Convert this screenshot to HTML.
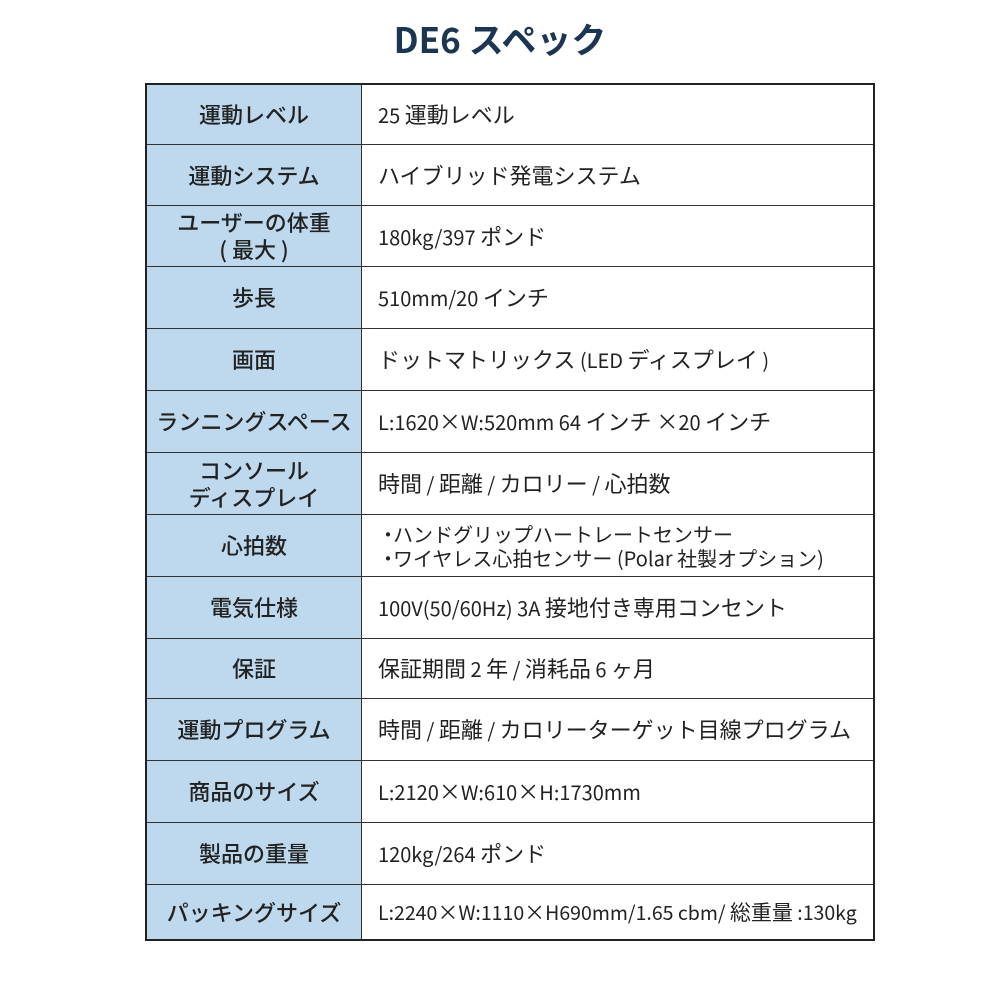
<!DOCTYPE html>
<html><head><meta charset="utf-8"><style>
body{margin:0;width:1000px;height:1000px;background:#fff;font-family:"Liberation Sans","Noto Sans CJK JP",sans-serif;color:#222;position:relative;overflow:hidden}
h1{position:absolute;top:13px;left:0;width:1000px;text-align:center;margin:0;font-size:35px;font-weight:bold;color:#1b3553;font-family:"Noto Sans CJK JP",sans-serif}
.t{position:absolute;left:145px;top:83px;width:726px;height:854px;border:2px solid #222}
.r{position:absolute;left:0;width:726px;border-bottom:1.5px solid #333;box-sizing:border-box}
.r:last-child{border-bottom:none}
.k{position:absolute;left:0;top:0;bottom:0;width:214px;background:#bed9ed;border-right:1.5px solid #333;display:flex;align-items:center;justify-content:center;text-align:center;font-size:22px;font-weight:500;line-height:27px;font-family:"Noto Sans CJK JP Medium","Noto Sans CJK JP",sans-serif}
.v{position:absolute;left:231px;top:0;bottom:0;right:0;display:flex;align-items:center;font-size:22px;line-height:24px;font-family:"Noto Sans CJK JP",sans-serif;white-space:nowrap}
.l{font-size:20px}
.b{display:inline-block;width:15px;overflow:visible}
</style></head><body>
<h1>DE6 スペック</h1>
<div class="t">
<div class="r" style="top:0;height:60px"><div class="k">運動レベル</div><div class="v"><span><span class="l">25 </span>運動レベル</span></div></div>
<div class="r" style="top:60px;height:61px"><div class="k">運動システム</div><div class="v">ハイブリッド発電システム</div></div>
<div class="r" style="top:121px;height:61px"><div class="k">ユーザーの体重<br>( 最大 )</div><div class="v"><span><span class="l">180kg/397 </span>ポンド</span></div></div>
<div class="r" style="top:182px;height:62px"><div class="k">歩長</div><div class="v"><span><span class="l">510mm/20 </span>インチ</span></div></div>
<div class="r" style="top:244px;height:62px"><div class="k">画面</div><div class="v"><span>ドットマトリックス<span class="l"> (LED </span>ディスプレイ<span class="l"> )</span></span></div></div>
<div class="r" style="top:306px;height:62px"><div class="k">ランニングスペース</div><div class="v"><span><span class="l">L:1620</span>×<span class="l">W:520mm 64 </span>インチ ×<span class="l">20 </span>インチ</span></div></div>
<div class="r" style="top:368px;height:62px"><div class="k">コンソール<br>ディスプレイ</div><div class="v"><span>時間<span class="l"> / </span>距離<span class="l"> / </span>カロリー<span class="l"> / </span>心拍数</span></div></div>
<div class="r" style="top:430px;height:62px"><div class="k">心拍数</div><div class="v" style="font-size:20px"><span><span class="b">・</span>ハンドグリップハートレートセンサー<br><span class="b">・</span>ワイヤレス心拍センサー<span class="l"> (Polar </span>社製オプション)</span></div></div>
<div class="r" style="top:492px;height:62px"><div class="k">電気仕様</div><div class="v"><span><span class="l">100V(50/60Hz) 3A </span>接地付き専用コンセント</span></div></div>
<div class="r" style="top:554px;height:60px"><div class="k">保証</div><div class="v"><span>保証期間<span class="l"> 2 </span>年<span class="l"> / </span>消耗品<span class="l"> 6 </span>ヶ月</span></div></div>
<div class="r" style="top:614px;height:62px"><div class="k">運動プログラム</div><div class="v"><span>時間<span class="l"> / </span>距離<span class="l"> / </span>カロリーターゲット目線プログラム</span></div></div>
<div class="r" style="top:676px;height:62px"><div class="k">商品のサイズ</div><div class="v"><span><span class="l">L:2120</span>×<span class="l">W:610</span>×<span class="l">H:1730mm</span></span></div></div>
<div class="r" style="top:738px;height:62px"><div class="k">製品の重量</div><div class="v"><span><span class="l">120kg/264 </span>ポンド</span></div></div>
<div class="r" style="top:800px;height:54px"><div class="k">パッキングサイズ</div><div class="v" style="font-size:21px"><span><span class="l" style="font-size:19.5px">L:2240</span>×<span class="l" style="font-size:19.5px">W:1110</span>×<span class="l" style="font-size:19.5px">H690mm/1.65 cbm/ </span>総重量<span class="l" style="font-size:19.5px"> :130kg</span></span></div></div>
</div>
</body></html>
